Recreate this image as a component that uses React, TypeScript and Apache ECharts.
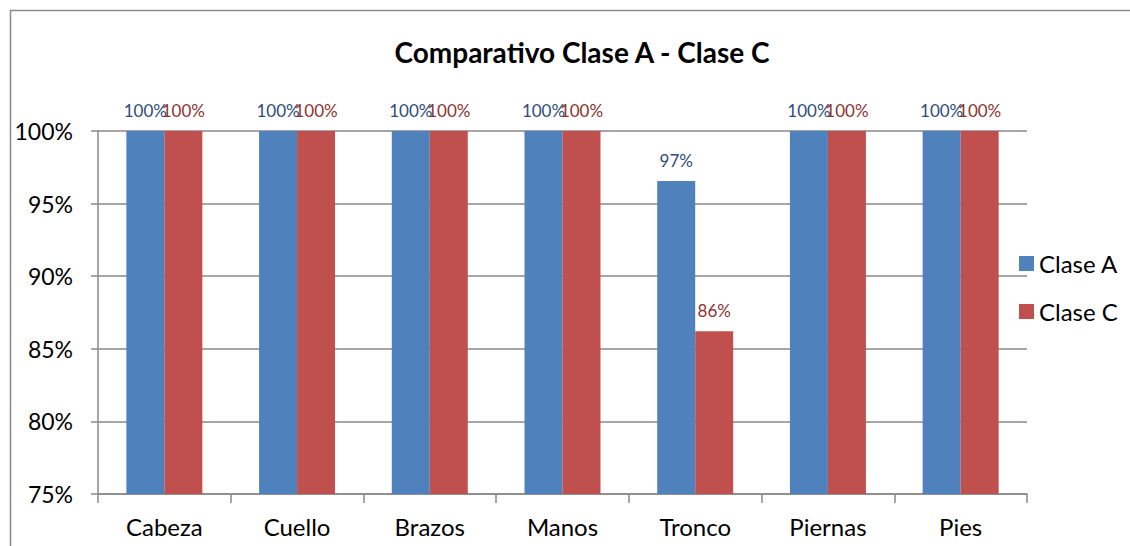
import React, { useEffect, useRef } from "react";
import * as echarts from "echarts";

const categories = ["Cabeza", "Cuello", "Brazos", "Manos", "Tronco", "Piernas", "Pies"];
const claseA = [100, 100, 100, 100, 96.55, 100, 100];
const claseC = [100, 100, 100, 100, 86.21, 100, 100];
const seriesNames = ["Clase A", "Clase C"];
const yMin = 75;
const yMax = 100;
const yStep = 5;

const FONT = "Lato, 'Noto Sans', sans-serif";

export default function App() {
  const ref = useRef<HTMLDivElement>(null);
  useEffect(() => {
    if (!ref.current) return;
    const chart = echarts.init(ref.current, undefined, { renderer: "svg" });
    const labelCfg = (color: string) => ({
      show: true,
      position: "top",
      distance: 12,
      color,
      fontSize: 17,
      fontFamily: FONT,
      formatter: (p: any) => Math.round(p.value) + "%",
    });
    chart.setOption({
      animation: false,
      backgroundColor: "#ffffff",
      textStyle: { fontFamily: FONT },
      title: {
        text: "Comparativo Clase A - Clase C",
        left: 577,
        top: 33,
        textAlign: "center",
        textStyle: { fontSize: 28, fontWeight: "bold", color: "#000", fontFamily: FONT },
      },
      graphic: [
        {
          type: "rect",
          shape: { x: 10.5, y: 10.5, width: 1300, height: 700 },
          style: { fill: "none", stroke: "#8a8a8a", lineWidth: 1.5 },
          silent: true,
        },
      ],
      legend: {
        orient: "vertical",
        left: 1014,
        top: 246,
        itemWidth: 15,
        itemHeight: 15,
        itemGap: 23,
        icon: "rect",
        textStyle: { fontSize: 24, color: "#000", fontFamily: FONT, lineHeight: 25 },
        data: seriesNames,
      },
      grid: { left: 98, right: 103, top: 131, bottom: 52, containLabel: false },
      xAxis: {
        type: "category",
        data: categories,
        axisLine: { lineStyle: { color: "#898989", width: 1.5 } },
        axisTick: { show: true, length: 9, alignWithLabel: false, lineStyle: { color: "#898989", width: 1.5 } },
        axisLabel: { color: "#000", fontSize: 24, margin: 20, fontFamily: FONT },
      },
      yAxis: {
        type: "value",
        min: yMin,
        max: yMax,
        interval: yStep,
        axisLine: { show: true, lineStyle: { color: "#898989", width: 1.5 } },
        axisTick: { show: true, length: 7, lineStyle: { color: "#898989", width: 1.5 } },
        axisLabel: { color: "#000", fontSize: 23, margin: 25, fontFamily: FONT, formatter: (v: number) => v + "%" },
        splitLine: { show: true, lineStyle: { color: "#898989", width: 1.5 } },
      },
      series: [
        {
          name: seriesNames[0],
          type: "bar",
          data: claseA,
          barWidth: 38,
          barGap: "0%",
          itemStyle: { color: "#4F81BD" },
          label: labelCfg("#2E4D7B"),
        },
        {
          name: seriesNames[1],
          type: "bar",
          data: claseC,
          barWidth: 38,
          barGap: "0%",
          itemStyle: { color: "#C0504D" },
          label: labelCfg("#8C3331"),
        },
      ],
    });
    return () => chart.dispose();
  }, []);
  return (
    <div
      ref={ref}
      style={{ position: "fixed", left: 0, top: 0, width: 1130, height: 546 }}
    />
  );
}
